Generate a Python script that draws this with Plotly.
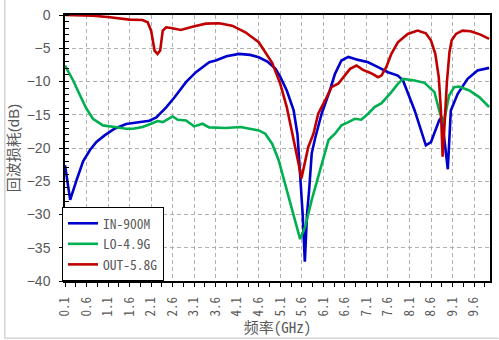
import plotly.graph_objects as go

# Return loss of the three ports versus frequency (GHz, dB)
in_freq = [0.10, 0.22, 0.37, 0.52, 0.68, 0.83, 1.02, 1.25, 1.52, 1.83, 2.06, 2.22, 2.45,
           2.64, 2.91, 3.14, 3.45, 3.60, 3.85, 4.14, 4.40, 4.60, 4.80, 4.99, 5.10, 5.25,
           5.41, 5.50, 5.56, 5.62, 5.67, 5.72, 5.77, 5.83, 5.91, 6.06, 6.25, 6.37, 6.52,
           6.68, 6.91, 7.14, 7.37, 7.60, 7.83, 7.95, 8.22, 8.48, 8.60, 8.79, 8.85, 8.94,
           8.99, 9.06, 9.22, 9.45, 9.68, 9.95]
in_db = [-22.6, -27.8, -24.8, -22.0, -20.3, -19.1, -18.1, -17.1, -16.4, -16.1, -15.9, -15.4, -13.9,
         -12.4, -10.1, -8.6, -7.1, -6.85, -6.2, -5.85, -6.0, -6.35, -7.0, -8.1, -9.3, -11.35,
         -14.35, -18.0, -23.8, -30.0, -37.1, -30.0, -26.3, -20.8, -18.5, -14.85, -11.35, -8.85, -6.85,
         -6.3, -6.75, -7.1, -7.85, -8.6, -9.1, -9.85, -14.35, -19.6, -19.1, -15.85, -15.3, -20.3,
         -23.2, -14.35, -11.85, -9.6, -8.35, -7.95]

lo_freq = [0.10, 0.29, 0.45, 0.60, 0.75, 0.98, 1.25, 1.52, 1.68, 1.90, 2.10, 2.25, 2.37,
           2.60, 2.72, 2.91, 3.10, 3.29, 3.45, 3.83, 4.18, 4.45, 4.60, 4.75, 4.91, 5.06,
           5.25, 5.41, 5.56, 5.68, 5.83, 5.98, 6.22, 6.37, 6.52, 6.68, 6.83, 6.98, 7.14,
           7.29, 7.45, 7.68, 7.83, 7.95, 8.22, 8.45, 8.68, 8.79, 8.89, 9.02, 9.14, 9.25,
           9.49, 9.72, 9.95]
lo_db = [-7.6, -9.85, -12.1, -14.1, -15.6, -16.6, -16.85, -17.1, -17.1, -16.85, -16.35, -15.95, -16.1,
         -15.25, -15.75, -15.85, -16.75, -16.35, -16.9, -17.0, -16.85, -17.1, -17.35, -17.85, -19.35, -21.8,
         -26.3, -30.3, -33.7, -31.8, -27.8, -24.35, -18.8, -17.85, -16.6, -16.1, -15.6, -15.75, -14.85,
         -13.85, -13.25, -11.6, -10.35, -9.6, -9.85, -10.2, -11.6, -14.35, -16.35, -12.1, -10.85, -10.75,
         -11.35, -12.35, -13.85]

out_freq = [0.10, 0.75, 1.14, 1.40, 1.60, 1.90, 2.02, 2.10, 2.18, 2.25, 2.31, 2.37, 2.45,
            2.56, 2.79, 3.06, 3.37, 3.68, 3.98, 4.29, 4.60, 4.91, 5.10, 5.25, 5.37, 5.45,
            5.52, 5.59, 5.68, 5.75, 5.87, 5.98, 6.14, 6.29, 6.45, 6.56, 6.72, 6.87, 7.02,
            7.21, 7.37, 7.45, 7.56, 7.68, 7.83, 8.06, 8.29, 8.48, 8.60, 8.70, 8.78, 8.83,
            8.87, 8.91, 8.97, 9.03, 9.08, 9.18, 9.33, 9.52, 9.75, 9.95]
out_db = [0.0, -0.1, -0.35, -0.6, -0.7, -0.75, -1.1, -2.35, -5.35, -5.85, -5.35, -2.35, -1.85,
          -1.95, -2.25, -1.75, -1.3, -1.25, -1.6, -2.6, -4.1, -7.2, -10.35, -13.85, -17.35, -19.85,
          -22.2, -24.6, -21.8, -19.85, -17.85, -14.85, -12.85, -10.85, -10.3, -9.35, -8.1, -7.6, -8.25,
          -8.75, -9.35, -9.1, -7.85, -5.85, -4.1, -2.85, -2.35, -2.75, -3.85, -5.85, -9.35, -14.35,
          -21.3, -17.0, -10.0, -5.5, -3.8, -2.85, -2.35, -2.45, -2.95, -3.6]

series_names = ["IN-900M", "LO-4.9G", "OUT-5.8G"]
series_colors = ["#0000CD", "#00B050", "#C00000"]

x_tick_vals = [0.1, 0.6, 1.1, 1.6, 2.1, 2.6, 3.1, 3.6, 4.1, 4.6,
               5.1, 5.6, 6.1, 6.6, 7.1, 7.6, 8.1, 8.6, 9.1, 9.6]
x_tick_text = ["0.1", "0.6", "1.1", "1.6", "2.1", "2.6", "3.1", "3.6", "4.1", "4.6",
               "5.1", "5.6", "6.1", "6.6", "7.1", "7.6", "8.1", "8.6", "9.1", "9.6"]

MONO = "Noto Sans Mono CJK SC, Liberation Mono, Noto Sans CJK SC, monospace"
SANS = "Liberation Sans, Arial, Noto Sans CJK SC, sans-serif"
GRAY_TEXT = "#595959"
GRID = "#b0b0b0"

fig = go.Figure()
for fx, fy, name, color in zip([in_freq, lo_freq, out_freq], [in_db, lo_db, out_db],
                               series_names, series_colors):
    fig.add_trace(go.Scatter(x=fx, y=fy, mode="lines", name=name,
                             line=dict(color=color, width=2.6)))

# invisible trace carrying the overlay axis used for the inward major ticks
fig.add_trace(go.Scatter(x=[0.1], y=[0], yaxis="y2", mode="lines",
                         showlegend=False, hoverinfo="skip", line=dict(width=0)))

fig.update_layout(
    width=499, height=340,
    margin=dict(l=65, r=7, t=14, b=59),
    paper_bgcolor="white", plot_bgcolor="white",
    showlegend=True,
    legend=dict(x=-0.007, y=0, xanchor="left", yanchor="bottom",
                bgcolor="white", bordercolor="black", borderwidth=1,
                font=dict(family=MONO, size=13.5, color=GRAY_TEXT),
                tracegroupgap=0, itemwidth=30),
    xaxis=dict(range=[0.1, 9.97], tickvals=x_tick_vals, ticktext=x_tick_text,
               tickangle=-90, tickfont=dict(family=MONO, size=13, color=GRAY_TEXT),
               ticks="outside", ticklen=4, tickcolor="black", tickwidth=1,
               ticklabelstandoff=5,
               minor=dict(dtick=0.25, tick0=0.1, ticks="outside", ticklen=4,
                          tickcolor="black", showgrid=False),
               showline=True, linecolor="black", linewidth=1.5, mirror=True,
               showgrid=True, gridcolor=GRID, griddash="4px,3px", gridwidth=1,
               zeroline=False,
               title=dict(text="频率(GHz)", font=dict(family=MONO, size=15, color=GRAY_TEXT),
                          standoff=5)),
    yaxis=dict(range=[-40, 0], dtick=5, tick0=0,
               tickfont=dict(family=SANS, size=14, color=GRAY_TEXT),
               ticks="outside", ticklen=4, tickcolor="black", tickwidth=1,
               ticklabelstandoff=6,
               minor=dict(dtick=1, ticks="inside", ticklen=4, tickcolor="black", showgrid=False),
               showline=True, linecolor="black", linewidth=1.5, mirror=True,
               showgrid=True, gridcolor=GRID, griddash="4px,3px", gridwidth=1,
               zeroline=False,
               title=dict(text="回波损耗(dB)", font=dict(family=SANS, size=15, color=GRAY_TEXT),
                          standoff=3)),
    yaxis2=dict(overlaying="y", side="left", anchor="x", range=[-40, 0], dtick=5, tick0=0,
                ticks="inside", ticklen=4, tickcolor="black", showticklabels=False,
                showgrid=False, showline=False, zeroline=False),
    shapes=[
        dict(type="line", xref="paper", yref="paper", x0=-0.1416, x1=-0.1416,
             y0=-0.2149, y1=1.06, line=dict(color="#d4d4d4", width=1.5)),
        dict(type="line", xref="paper", yref="paper", x0=-0.1416, x1=1.02,
             y0=-0.2149, y1=-0.2149, line=dict(color="#d4d4d4", width=1.5)),
    ],
)

fig.write_html("out.html")
